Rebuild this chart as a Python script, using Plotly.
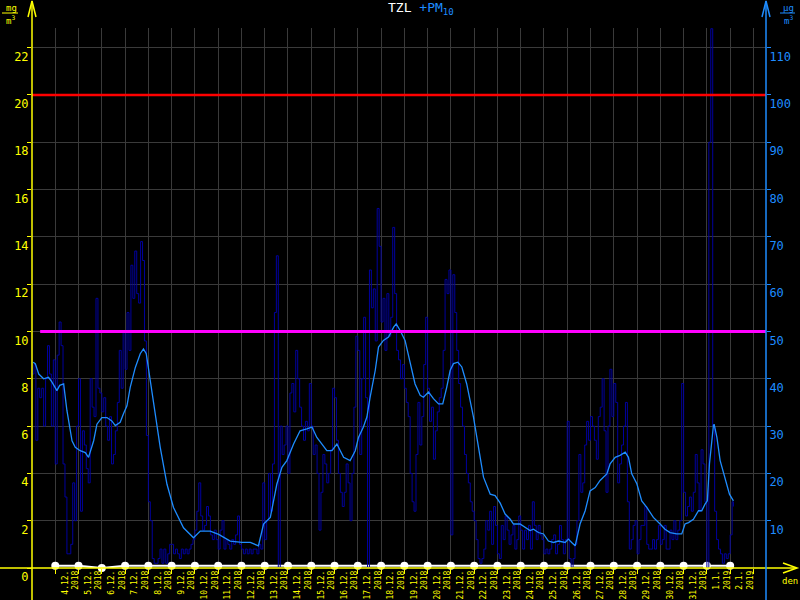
import plotly.graph_objects as go

# ---------------- data ----------------
# x unit: days since 3.12.2018 00:00
DAY_LABELS = [f"{d}.12.<br>2018" for d in range(4, 32)] + ["1.1.<br>2019", "2.1.<br>2019"]

# PM10 (ug/m3), 2-hour values, one row per day starting 3.12.2018
pm10 = [
    41, 43, 27, 38, 36, 38, 30, 40, 47, 41, 30, 44,   # 3.12
    22, 45, 52, 47, 22, 15, 3, 3, 5, 18, 10, 30,      # 4.12
    40, 12, 29, 26, 21, 18, 40, 34, 32, 57, 38, 37,   # 5.12
    33, 36, 30, 27, 32, 22, 24, 29, 35, 46, 38, 50,   # 6.12
    42, 54, 46, 64, 57, 67, 58, 56, 69, 65, 48, 28,   # 7.12
    14, 10, 2, 1, 1, 2, 4, 1, 4, 1, 3, 5,             # 8.12
    5, 3, 4, 3, 2, 4, 3, 4, 3, 4, 5, 6,               # 9.12
    8, 12, 18, 11, 8, 9, 13, 11, 7, 6, 8, 6,          # 10.12
    4, 8, 10, 4, 6, 5, 4, 6, 5, 7, 11, 5,             # 11.12
    4, 3, 4, 3, 4, 3, 4, 4, 3, 5, 4, 18,              # 12.12
    6, 10, 20, 12, 22, 54, 66, 0, 30, 24, 26, 30,     # 13.12
    20, 37, 39, 33, 46, 40, 34, 30, 27, 31, 29, 39,   # 14.12
    30, 24, 26, 20, 8, 16, 24, 22, 18, 20, 25, 38,    # 15.12
    36, 27, 20, 16, 13, 16, 22, 18, 10, 20, 34, 49,   # 16.12
    46, 24, 40, 53, 36, 0, 63, 55, 59, 48, 76, 68,    # 17.12
    52, 57, 46, 58, 49, 53, 72, 58, 46, 44, 40, 43,   # 18.12
    38, 35, 32, 20, 14, 12, 24, 35, 26, 32, 43, 53,   # 19.12
    38, 31, 34, 23, 29, 33, 36, 38, 46, 61, 58, 63,   # 20.12
    7, 62, 54, 46, 39, 34, 30, 24, 20, 18, 14, 12,    # 21.12
    10, 6, 2, 1, 2, 4, 10, 8, 12, 5, 13, 9,           # 22.12
    3, 2, 9, 6, 11, 8, 5, 7, 9, 4, 6, 11,             # 23.12
    8, 4, 8, 6, 9, 4, 14, 9, 6, 9, 7, 6,              # 24.12
    3, 4, 3, 4, 6, 7, 3, 5, 9, 6, 3, 6,               # 25.12
    31, 2, 0, 2, 5, 10, 24, 16, 18, 26, 31, 27,       # 26.12
    32, 30, 27, 23, 32, 34, 40, 29, 16, 30, 42, 32,   # 27.12
    39, 35, 18, 22, 26, 30, 35, 14, 4, 6, 9, 10,      # 28.12
    3, 6, 9, 9, 13, 5, 4, 4, 6, 4, 6, 9,              # 29.12
    5, 6, 9, 4, 4, 8, 6, 10, 6, 8, 10, 39,            # 30.12
    16, 11, 13, 15, 12, 16, 24, 18, 12, 25, 22, 14,   # 31.12
    0, 90, 114, 30, 12, 6, 4, 3, 1, 3, 2, 3,          # 1.1
    7, 14, 13,                                        # 2.1
]
PM10_STEP_H = 2

# PM10 running average (ug/m3): day position, value
smooth_day = [0.05, 0.14, 0.29, 0.5, 0.71, 0.86, 1.07, 1.19, 1.36, 1.5, 1.72, 1.86, 2.07, 2.29, 2.43,
              2.65, 2.79, 3.0, 3.22, 3.43, 3.58, 3.79, 3.93, 4.08, 4.22, 4.44, 4.65, 4.79, 4.91, 5.08,
              5.3, 5.51, 5.8, 6.08, 6.51, 6.94, 7.23, 7.66, 8.02, 8.52, 9.02, 9.38, 9.73, 9.95, 10.24,
              10.52, 10.74, 10.95, 11.24, 11.52, 11.81, 12.03, 12.24, 12.46, 12.67, 12.89, 13.1, 13.39,
              13.67, 13.89, 14.03, 14.24, 14.39, 14.53, 14.75, 14.89, 15.1, 15.32, 15.54, 15.65, 15.82,
              16.03, 16.25, 16.46, 16.68, 16.82, 17.04, 17.25, 17.47, 17.65, 17.82, 17.97, 18.11, 18.3,
              18.47, 18.68, 18.97, 19.19, 19.4, 19.69, 19.9, 20.12, 20.33, 20.55, 20.69, 20.97, 21.19,
              21.4, 21.55, 21.76, 21.98, 22.19, 22.41, 22.62, 22.91, 23.05, 23.19, 23.34, 23.55, 23.77,
              23.98, 24.2, 24.41, 24.56, 24.7, 24.84, 25.06, 25.27, 25.49, 25.63, 25.77, 25.99, 26.2,
              26.42, 26.7, 26.99, 27.2, 27.42, 27.7, 27.92, 28.06, 28.21, 28.42, 28.64, 28.78, 28.92,
              29.02, 29.11, 29.21, 29.28, 29.31, 29.43, 29.57, 29.78, 29.97, 30.14]
smooth_val = [43.5, 43.2, 41.0, 40.0, 40.3, 39.3, 37.5, 38.6, 38.9, 33.3, 26.9, 25.5, 24.8, 24.4, 23.4,
              26.9, 30.4, 31.8, 31.8, 31.1, 30.1, 30.8, 32.6, 34.3, 38.2, 42.4, 45.3, 46.3, 45.3, 39.6,
              31.8, 25.5, 17.7, 12.8, 8.5, 6.4, 7.8, 7.8, 7.1, 5.7, 5.4, 5.4, 4.7, 9.3, 10.7,
              17.7, 21.3, 22.7, 26.2, 29.0, 29.4, 29.8, 27.6, 26.2, 24.8, 24.8, 26.2, 23.4,
              22.7, 24.8, 27.6, 29.8, 31.9, 36.1, 41.8, 46.7, 48.1, 48.8, 50.9, 51.6, 50.2,
              48.1, 43.2, 38.9, 36.5, 36.1, 37.2, 35.8, 34.7, 34.7, 38.2, 41.8, 43.2, 43.5,
              42.5, 38.9, 31.9, 25.5, 19.2, 15.6, 15.3, 13.7, 11.4, 10.3, 9.3, 9.3, 8.6,
              7.9, 8.2, 7.5, 7.2, 5.7, 5.4, 5.7, 5.4, 6.1, 5.4, 4.7, 9.3, 12.1,
              16.3, 17.0, 18.5, 19.2, 19.9, 22.0, 23.4, 23.8, 24.5, 23.4, 19.9, 17.8, 14.2,
              12.8, 10.7, 9.3, 8.2, 7.5, 7.2, 7.2, 9.3, 9.6, 10.3, 12.1, 12.1, 13.5,
              14.2, 22.0, 27.6, 30.1, 30.4, 27.6, 22.7, 19.2, 15.6, 14.2]

# TZL daily values (mg/m3) at day boundaries 4.12 .. 2.1
tzl_day = list(range(1, 31))
tzl_val = [0.09, 0.09, 0.0, 0.09, 0.09, 0.09, 0.09, 0.09, 0.09, 0.09,
           0.09, 0.09, 0.09, 0.09, 0.09, 0.09, 0.09, 0.09, 0.09, 0.09,
           0.09, 0.09, 0.09, 0.09, 0.09, 0.09, 0.09, 0.09, 0.09, 0.09]

PM10_LIMIT = 50
PM10_ALARM = 100
LEFT_TICKS = list(range(0, 23, 2))
RIGHT_TICKS = list(range(10, 111, 10))

# ---------------- geometry helpers ----------------
X_MAX = 31.54
Y_MAX = 22.83
L, R, T, B = 32, 34, 28, 32
PW, PH = 800 - L - R, 600 - T - B


def px(x):
    return (x - L) / PW


def py(y):
    return (600 - B - y) / PH


YEL = "#FFFF00"
BLU = "#1E8CFF"
GRID = "#3a3a3a"
FONT = "DejaVu Sans Mono"

pm10_t = [i * PM10_STEP_H / 24 for i in range(len(pm10))]
pm10_t[-1] = smooth_day[-1]

fig = go.Figure()
fig.add_trace(go.Scatter(x=pm10_t, y=pm10, yaxis="y2", mode="lines", line_shape="hv",
                         line=dict(color="#00009E", width=1), hoverinfo="skip"))
fig.add_trace(go.Scatter(x=smooth_day, y=smooth_val, yaxis="y2", mode="lines",
                         line=dict(color=BLU, width=1.3), hoverinfo="skip"))
fig.add_trace(go.Scatter(x=[0, X_MAX], y=[PM10_ALARM] * 2, yaxis="y2", mode="lines",
                         line=dict(color="#FF0000", width=2.5), hoverinfo="skip"))
fig.add_trace(go.Scatter(x=[0.35, X_MAX], y=[PM10_LIMIT] * 2, yaxis="y2", mode="lines",
                         line=dict(color="#FF00FF", width=3), hoverinfo="skip"))
fig.add_trace(go.Scatter(x=tzl_day, y=tzl_val, mode="lines+markers",
                         line=dict(color="white", width=2),
                         marker=dict(color="white", size=8), cliponaxis=False, hoverinfo="skip"))

shapes = [
    # x axis line with arrow
    dict(type="line", xref="paper", yref="paper", x0=px(0), x1=px(796), y0=py(568), y1=py(568),
         line=dict(color=YEL, width=1.5)),
    dict(type="path", xref="paper", yref="paper",
         path=f"M {px(783)} {py(563)} L {px(797)} {py(568)} L {px(783)} {py(573)}",
         line=dict(color=YEL, width=1.5)),
    # left axis with arrow
    dict(type="line", xref="paper", yref="paper", x0=px(32), x1=px(32), y0=py(600), y1=py(1),
         line=dict(color=YEL, width=1.5)),
    dict(type="path", xref="paper", yref="paper",
         path=f"M {px(28)} {py(17)} L {px(32)} {py(1)} L {px(36)} {py(17)}",
         line=dict(color=YEL, width=1.5)),
    # right axis with arrow
    dict(type="line", xref="paper", yref="paper", x0=px(766), x1=px(766), y0=py(600), y1=py(1),
         line=dict(color=BLU, width=1.5)),
    dict(type="path", xref="paper", yref="paper",
         path=f"M {px(762)} {py(17)} L {px(766)} {py(1)} L {px(770)} {py(17)}",
         line=dict(color=BLU, width=1.5)),
    # unit fraction bars
    dict(type="line", xref="paper", yref="paper", x0=px(2), x1=px(18), y0=py(13), y1=py(13),
         line=dict(color=YEL, width=1)),
    dict(type="line", xref="paper", yref="paper", x0=px(780), x1=px(795), y0=py(13), y1=py(13),
         line=dict(color=BLU, width=1)),
]

ann = [
    dict(text="TZL <span style='color:#1E8CFF'>+PM<sub>10</sub></span>", x=px(421), y=py(9),
         font=dict(color="white", size=13, family=FONT)),
    dict(text="mg", x=px(11), y=py(8), font=dict(color=YEL, size=9, family=FONT)),
    dict(text="m<sup>3</sup>", x=px(10), y=py(20), font=dict(color=YEL, size=9, family=FONT)),
    dict(text="µg", x=px(788), y=py(8), font=dict(color=BLU, size=9, family=FONT)),
    dict(text="m<sup>3</sup>", x=px(788), y=py(20), font=dict(color=BLU, size=9, family=FONT)),
    dict(text="den", x=px(790), y=py(581), font=dict(color=YEL, size=9, family=FONT)),
]
for a in ann:
    a.update(xref="paper", yref="paper", showarrow=False, xanchor="center", yanchor="middle")

fig.update_layout(
    width=800, height=600,
    paper_bgcolor="black", plot_bgcolor="black",
    margin=dict(l=L, r=R, t=T, b=B, autoexpand=False),
    showlegend=False,
    font=dict(family=FONT, color=YEL),
    shapes=shapes, annotations=ann,
    xaxis=dict(range=[0, X_MAX], tickmode="array", automargin=False,
               tickvals=[n + 0.64 for n in range(1, 31)], ticktext=DAY_LABELS,
               tickangle=-90, ticks="", showgrid=False, zeroline=False, showline=False,
               tickfont=dict(size=8, color=YEL, family=FONT),
               minor=dict(tickmode="array", tickvals=list(range(1, 32)), showgrid=True,
                          gridcolor=GRID, gridwidth=1, ticks="outside", ticklen=5,
                          tickcolor=YEL, tickwidth=1)),
    yaxis=dict(range=[0, Y_MAX], tickmode="array", tickvals=LEFT_TICKS, automargin=False,
               ticks="outside", ticklen=4, tickcolor=YEL, showgrid=True, gridcolor=GRID,
               zeroline=False, showline=False, ticklabelposition="outside bottom",
               tickfont=dict(size=12, color=YEL, family=FONT)),
    yaxis2=dict(range=[0, Y_MAX * 5], overlaying="y", side="right", tickmode="array",
                tickvals=RIGHT_TICKS, ticks="outside", ticklen=4, tickcolor=BLU, automargin=False,
                showgrid=False, zeroline=False, showline=False,
                ticklabelposition="outside bottom",
                tickfont=dict(size=12, color=BLU, family=FONT)),
)

fig.write_html(
    "out.html",
    config={"displayModeBar": False},
    post_script="document.body.style.margin='0';document.body.style.padding='0';"
                "document.body.style.background='black';document.body.style.overflow='hidden';",
)
